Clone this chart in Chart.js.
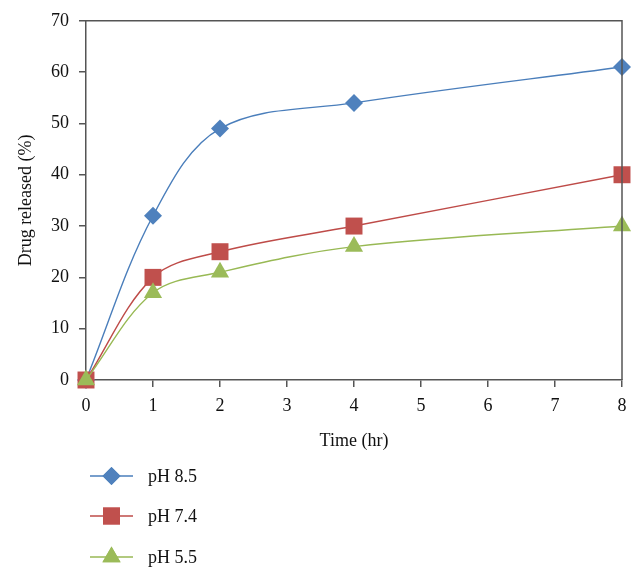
<!DOCTYPE html>
<html>
<head>
<meta charset="utf-8">
<script src="https://cdn.jsdelivr.net/npm/chart.js@4"></script>
<style>
  html, body { margin: 0; padding: 0; background: #fff; }
  #wrap { width: 644px; height: 582px; position: relative; }
</style>
</head>
<body>
<div id="wrap"><canvas id="c" width="644" height="582"></canvas></div>
<script>
// Data
const times = [0, 1, 2, 4, 8];
const ph85 = [0, 32, 49, 54, 61];
const ph74 = [0, 20, 25, 30, 40];
const ph55 = [0, 17, 21, 26, 30];
const seriesLabels = ['pH 8.5', 'pH 7.4', 'pH 5.5'];
const xTickValues = [0, 1, 2, 3, 4, 5, 6, 7, 8];
const yTickValues = [0, 10, 20, 30, 40, 50, 60, 70];

const FONT = "'Liberation Serif', 'DejaVu Serif', serif";
const colors = ['#4A7EBB', '#BE4B48', '#98B954'];
const fills = ['#4F81BD', '#C0504D', '#9BBB59'];
const styles = ['rectRot', 'rect', 'triangle'];
const radii = [9, 12, 10.5];

function pts(ys) { return times.map((t, i) => ({ x: t, y: ys[i] })); }

const allSeries = [ph85, ph74, ph55];
const datasets = allSeries.map((ys, i) => ({
  label: seriesLabels[i],
  data: pts(ys),
  borderColor: colors[i],
  backgroundColor: fills[i],
  borderWidth: 1.4,
  pointStyle: styles[i],
  pointRadius: radii[i],
  pointHoverRadius: radii[i],
  pointBackgroundColor: fills[i],
  pointBorderColor: fills[i],
  pointBorderWidth: 0,
  tension: 0.35,
  clip: false,
  order: 2 - i
}));

const frame = {
  id: 'frame',
  afterDatasetsDraw(chart) {
    const a = chart.chartArea, ctx = chart.ctx;
    ctx.save();
    ctx.strokeStyle = '#555555';
    ctx.lineWidth = 1.5;
    ctx.beginPath();
    ctx.moveTo(a.left, a.top);
    ctx.lineTo(a.right, a.top);
    ctx.lineTo(a.right, a.bottom);
    ctx.stroke();
    ctx.restore();
  }
};

const legendPlugin = {
  id: 'customLegend',
  afterDraw(chart) {
    const ctx = chart.ctx;
    const ys = [476, 516, 557];
    ctx.save();
    seriesLabels.forEach((lab, i) => {
      const y = ys[i];
      ctx.strokeStyle = colors[i];
      ctx.lineWidth = 1.4;
      ctx.beginPath();
      ctx.moveTo(90, y);
      ctx.lineTo(133, y);
      ctx.stroke();
      ctx.fillStyle = fills[i];
      ctx.strokeStyle = fills[i];
      Chart.helpers.drawPoint(ctx, { pointStyle: styles[i], radius: radii[i], borderWidth: 0, rotation: 0 }, 111.5, y);
      ctx.fill();
      ctx.fillStyle = '#111';
      ctx.font = "18px " + FONT;
      ctx.textBaseline = 'middle';
      ctx.textAlign = 'left';
      ctx.fillText(lab, 148, y + 1);
    });
    ctx.restore();
  }
};

new Chart(document.getElementById('c'), {
  type: 'line',
  data: { datasets },
  options: {
    responsive: false,
    animation: false,
    events: [],
    layout: { padding: { top: 20, right: 22, left: 0, bottom: 130 } },
    plugins: { legend: { display: false }, tooltip: { enabled: false } },
    scales: {
      x: {
        type: 'linear',
        min: 0, max: 8,
        afterFit(s) { s.height = 72; },
        afterBuildTicks(s) { s.ticks = xTickValues.map(v => ({ value: v })); },
        ticks: { color: '#111', font: { family: FONT, size: 18 }, padding: 8, maxRotation: 0 },
        grid: { display: true, drawOnChartArea: false, drawTicks: true, tickLength: 7, color: '#555555', lineWidth: 1.5 },
        border: { display: true, color: '#555555', width: 1.5 },
        title: { display: true, text: 'Time (hr)', color: '#111', font: { family: FONT, size: 18 }, padding: { top: 0, bottom: 0 } }
      },
      y: {
        min: 0, max: 70,
        afterFit(s) { s.width = 86; },
        afterBuildTicks(s) { s.ticks = yTickValues.map(v => ({ value: v })); },
        ticks: { color: '#111', font: { family: FONT, size: 18 }, padding: 10 },
        grid: { display: true, drawOnChartArea: false, drawTicks: true, tickLength: 7, color: '#555555', lineWidth: 1.5 },
        border: { display: true, color: '#555555', width: 1.5 },
        title: { display: true, text: 'Drug released (%)', color: '#111', font: { family: FONT, size: 18 }, padding: { top: 15, bottom: 0 } }
      }
    }
  },
  plugins: [frame, legendPlugin]
});
</script>
</body>
</html>
